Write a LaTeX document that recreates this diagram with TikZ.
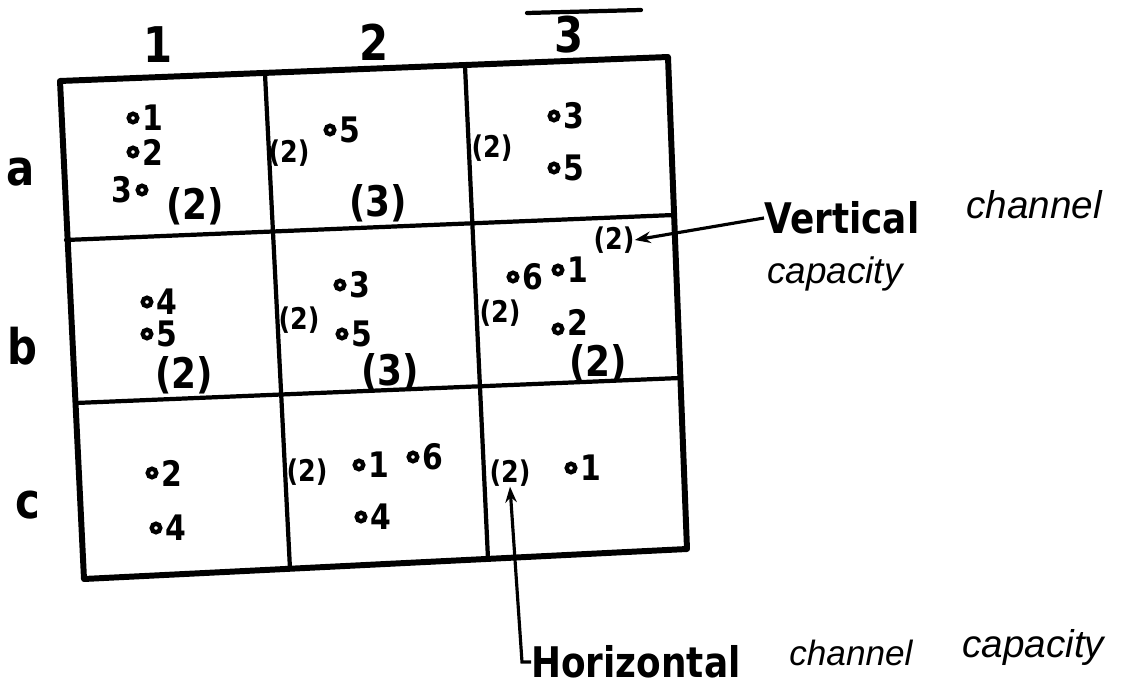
\documentclass[tikz,border=0pt]{standalone}
\usepackage{fontspec}
\setmainfont{DejaVu Sans}[FakeStretch=0.85]
\newfontfamily\handfont{Liberation Sans}
\usetikzlibrary{arrows.meta}

\begin{document}
\begin{tikzpicture}[
  x=0.02cm, y=-0.02cm,
  >={Stealth[length=9pt,width=6.5pt]},
  border/.style={line width=3.4pt, line join=round, line cap=round},
  inner/.style={line width=2.4pt, line cap=round},
  term/.style={circle, draw, line width=2.5pt, inner sep=0pt, minimum size=0.17cm},
  num/.style={font=\bfseries\fontsize{20}{22}\selectfont, inner sep=1.5pt},
  capv/.style={font=\bfseries\fontsize{17}{18}\selectfont, inner sep=0pt},
  caph/.style={font=\bfseries\fontsize{24}{26}\selectfont, inner sep=0pt},
  head/.style={font=\bfseries\fontsize{28}{30}\selectfont, inner sep=0pt},
  note/.style={font=\bfseries\fontsize{24}{26}\selectfont, inner sep=0pt, anchor=west},
  hand/.style={font=\handfont\itshape, inner sep=0pt, anchor=west},
  lead/.style={->, line width=1.8pt}
]
\useasboundingbox (0,0) rectangle (1137,689);

% grid corners
\coordinate (p00) at (60,81);  \coordinate (p01) at (265,74);
\coordinate (p02) at (465,66); \coordinate (p03) at (668,57);
\coordinate (p10) at (66,240); \coordinate (p13) at (674,215);
\coordinate (p20) at (76,403); \coordinate (p23) at (680,378);
\coordinate (p30) at (84,579); \coordinate (p31) at (290,569);
\coordinate (p32) at (488,559); \coordinate (p33) at (687,549);

% the board
\draw[inner] (p10) -- (p13);
\draw[inner] (p20) -- (p23);
\draw[inner] (p01) -- (p31);
\draw[inner] (p02) -- (p32);
\draw[border] (p00) -- (p03) -- (p33) -- (p30) -- cycle;

% column and row heads
\node[head] (col1) at (158,45) {1};
\node[head] (col2) at (374,42) {2};
\node[head] (col3) at (569,35) {3};
\coordinate (bar1) at (527,13);
\coordinate (bar2) at (641,10);
\draw[inner] (bar1) -- (bar2);
\node[head] (rowa) at (21,172) {a};
\node[head] (rowb) at (22,346) {b};
\node[head] (rowc) at (28,505) {c};

% cell a1
\node[term, label={[num]right:1}] (a1t1) at (133,118) {};
\node[term, label={[num]right:2}] (a1t2) at (133,152) {};
\node[term, label={[num]left:3}] (a1t3) at (142,190) {};
\node[caph] (a1h) at (195,206) {(2)};
% cell a2
\node[capv] (a2v) at (289,153) {(2)};
\node[term, label={[num]right:5}] (a2t5) at (330,130) {};
\node[caph] (a2h) at (378,203) {(3)};
% cell a3
\node[capv] (a3v) at (492,148) {(2)};
\node[term, label={[num]right:3}] (a3t3) at (554,116) {};
\node[term, label={[num]right:5}] (a3t5) at (554,168) {};

% cell b1
\node[term, label={[num]right:4}] (b1t4) at (147,302) {};
\node[term, label={[num]right:5}] (b1t5) at (147,334) {};
\node[caph] (b1h) at (184,375) {(2)};
% cell b2
\node[capv] (b2v) at (299,320) {(2)};
\node[term, label={[num]right:3}] (b2t3) at (340,285) {};
\node[term, label={[num]right:5}] (b2t5) at (342,334) {};
\node[caph] (b2h) at (390,372) {(3)};
% cell b3
\node[capv] (b3top) at (614,240) {(2)};
\node[term, label={[num]right:6}] (b3t6) at (513,277) {};
\node[term, label={[num]right:1}] (b3t1) at (558,270) {};
\node[capv] (b3v) at (500,313) {(2)};
\node[term, label={[num, yshift=4pt]right:2}] (b3t2) at (558,329) {};
\node[caph] (b3h) at (598,363) {(2)};

% cell c1
\node[term, label={[num]right:2}] (c1t2) at (152,473) {};
\node[term, label={[num]right:4}] (c1t4) at (156,528) {};
% cell c2
\node[capv] (c2v) at (307,472) {(2)};
\node[term, label={[num]right:1}] (c2t1) at (359,465) {};
\node[term, label={[num]right:6}] (c2t6) at (413,457) {};
\node[term, label={[num]right:4}] (c2t4) at (361,517) {};
% cell c3
\node[capv] (c3v) at (510,473) {(2)};
\node[term, label={[num]right:1}] (c3t1) at (571,468) {};

% call-outs
\node[note] (vnote) at (764,218) {Vertical};
\node[hand, font=\handfont\itshape\fontsize{22}{23}\selectfont] (vch) at (966,205) {channel};
\node[hand, font=\handfont\itshape\fontsize{21}{22}\selectfont] (vcap) at (767,274) {capacity};
\draw[lead] (vnote.west) -- (b3top.east);

\node[note] (hnote) at (531,662) {Horizontal};
\node[hand, font=\handfont\itshape\fontsize{20}{21}\selectfont] (hch) at (789,653) {channel};
\node[hand, font=\handfont\itshape\fontsize{22}{23}\selectfont] (hcap) at (962,648) {capacity};
\draw[lead] (hnote.west) -- ++(-9,0) -- (c3v.south);
\end{tikzpicture}
\end{document}
